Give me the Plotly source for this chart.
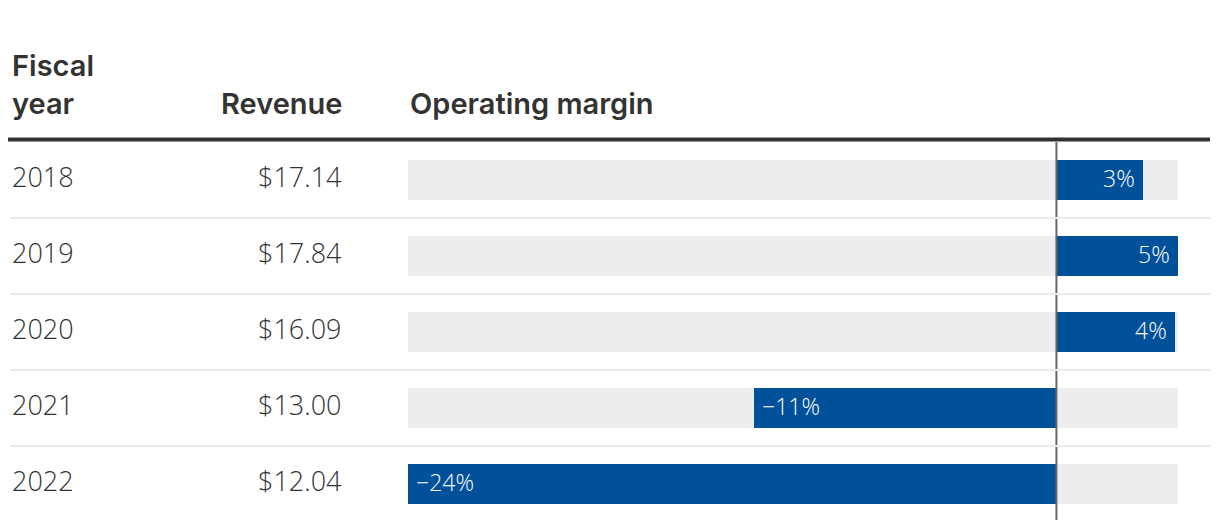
import plotly.graph_objects as go

years = ["2018", "2019", "2020", "2021", "2022"]
revenue = ["$17.14", "$17.84", "$16.09", "$13.00", "$12.04"]
margin = [3.2, 4.5, 4.4, -11.2, -24.0]
margin_labels = ["3%", "5%", "4%", "\u221211%", "\u221224%"]
headers = ["Fiscal<br>year", "Revenue", "Operating margin"]

W, H = 1220, 530
BLUE = "#00509a"
TXT = "#333333"
HFONT = "Inter"
NFONT = "Open Sans"

pos = list(range(len(years)))
lo, hi = min(margin), max(margin)

fig = go.Figure()
# grey background tracks spanning the full data range
fig.add_trace(go.Bar(
    y=pos, x=[hi - lo] * len(pos), base=[lo] * len(pos), orientation="h",
    marker=dict(color="#ededed", line=dict(width=0)), width=0.526,
    hoverinfo="skip", showlegend=False))
fig.add_trace(go.Bar(
    y=pos, x=margin, orientation="h",
    marker=dict(color=BLUE, line=dict(width=0)), width=0.526,
    hoverinfo="skip", showlegend=False))

ann = []
for i, (yr, rv, m, lab) in enumerate(zip(years, revenue, margin, margin_labels)):
    ann.append(dict(x=10 / W, xref="paper", y=i, yref="y", text=yr, showarrow=False,
                    xanchor="left", yanchor="middle", yshift=4,
                    font=dict(family=NFONT, size=27, color=TXT, weight=300)))
    ann.append(dict(x=344 / W, xref="paper", y=i, yref="y", text=rv, showarrow=False,
                    xanchor="right", yanchor="middle", yshift=4,
                    font=dict(family=NFONT, size=27, color=TXT, weight=300)))
    ann.append(dict(x=m, xref="x", y=i, yref="y", text=lab, showarrow=False,
                    xanchor="right" if m >= 0 else "left",
                    xshift=-6 if m >= 0 else 6, yanchor="middle", yshift=2,
                    font=dict(family=NFONT, size=23, color="white", weight=300)))

hdr_font = dict(family=HFONT, size=29, color=TXT, weight=600)
hy = (H - 123) / H
ann.append(dict(x=10 / W, xref="paper", y=hy, yref="paper", text=headers[0],
                showarrow=False, xanchor="left", yanchor="bottom", align="left",
                font=hdr_font))
ann.append(dict(x=344 / W, xref="paper", y=hy, yref="paper", text=headers[1],
                showarrow=False, xanchor="right", yanchor="bottom", font=hdr_font))
ann.append(dict(x=408 / W, xref="paper", y=hy, yref="paper", text=headers[2],
                showarrow=False, xanchor="left", yanchor="bottom", font=hdr_font))

shapes = []
# zero line
shapes.append(dict(type="line", xref="x", yref="paper", x0=0, x1=0,
                   y0=(H - 520) / H, y1=(H - 142) / H,
                   line=dict(color="#666666", width=2), layer="above"))
# row separators
for i in range(len(years) - 1):
    shapes.append(dict(type="line", xref="paper", yref="y", x0=10 / W, x1=1210 / W,
                       y0=i + 0.5, y1=i + 0.5,
                       line=dict(color="#ebebeb", width=2), layer="above"))
# header rule
shapes.append(dict(type="line", xref="paper", yref="paper", x0=8 / W, x1=1210 / W,
                   y0=(H - 139.5) / H, y1=(H - 139.5) / H,
                   line=dict(color="#333333", width=4), layer="above"))

top = -180 / 76
bottom = (H - 180) / 76
fig.update_layout(
    width=W, height=H, margin=dict(l=0, r=0, t=0, b=0),
    paper_bgcolor="white", plot_bgcolor="white",
    barmode="overlay", bargap=0,
    xaxis=dict(domain=[408 / W, 1178 / W], range=[lo, hi], visible=False, fixedrange=True),
    yaxis=dict(domain=[0, 1], range=[bottom, top], visible=False, fixedrange=True),
    annotations=ann, shapes=shapes, showlegend=False,
)

fig.write_html("out.html", config={"displayModeBar": False},
               post_script="document.body.style.margin='0px';document.body.style.overflow='hidden';")
